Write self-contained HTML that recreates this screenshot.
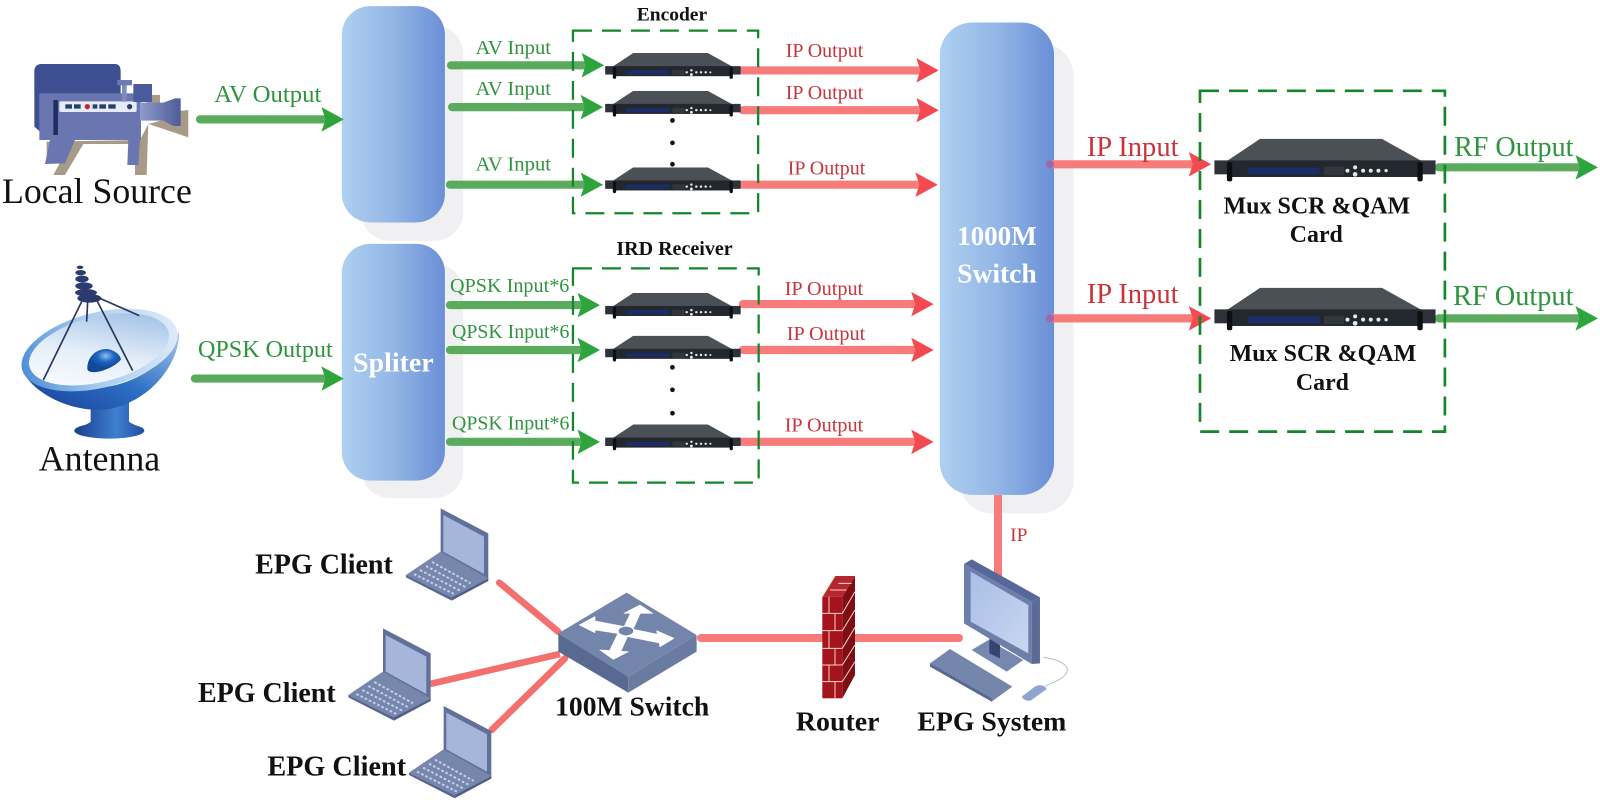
<!DOCTYPE html>
<html><head><meta charset="utf-8"><title>Headend diagram</title>
<style>
html,body{margin:0;padding:0;background:#fff;width:1600px;height:800px;overflow:hidden}
svg{display:block}
text{font-family:"Liberation Serif",serif}
.g{fill:#2f9440}.r{fill:#c8353c}.k{fill:#111}.b{font-weight:bold}.w{fill:#fff;font-weight:bold}
.ga{stroke:#5bab5e;stroke-width:8;stroke-linecap:round;marker-end:url(#mg);fill:none}
.ra{stroke:#f77b7b;stroke-width:8;stroke-linecap:round;marker-end:url(#mr);fill:none}
.d{fill:none;stroke:#13862a;stroke-width:2.2;stroke-dasharray:18.6 9.8}
</style></head><body>
<svg width="1600" height="800" viewBox="0 0 1600 800" xmlns="http://www.w3.org/2000/svg">
<defs>
<linearGradient id="bx" x1="0" x2="1" y1="0" y2="0"><stop offset="0" stop-color="#aed0f0"/><stop offset=".5" stop-color="#93b6e6"/><stop offset="1" stop-color="#6a8fd6"/></linearGradient>
<linearGradient id="lens" x1="0" x2="1"><stop offset="0" stop-color="#8f9bcb"/><stop offset="1" stop-color="#4e5c98"/></linearGradient>
<linearGradient id="bowl" x1="0" y1="1" x2="1" y2="0"><stop offset="0" stop-color="#163f95"/><stop offset=".5" stop-color="#2d6fc4"/><stop offset="1" stop-color="#a8cbec"/></linearGradient>
<linearGradient id="rim" x1="0" y1="0" x2="1" y2="0"><stop offset="0" stop-color="#4e8fd6"/><stop offset=".45" stop-color="#a9cdef"/><stop offset="1" stop-color="#dcebf8"/></linearGradient>
<linearGradient id="inner" x1="0" y1="1" x2="1" y2="0"><stop offset="0" stop-color="#fff"/><stop offset=".45" stop-color="#e5eff9"/><stop offset="1" stop-color="#8fb5e2"/></linearGradient>
<linearGradient id="stem" x1="0" x2="1"><stop offset="0" stop-color="#1b3f8f"/><stop offset=".6" stop-color="#3f7fd0"/><stop offset="1" stop-color="#1f4da0"/></linearGradient>
<radialGradient id="dome" cx=".55" cy=".3"><stop offset="0" stop-color="#8fc0f0"/><stop offset=".5" stop-color="#1f66c0"/><stop offset="1" stop-color="#124a9a"/></radialGradient>
<linearGradient id="scr" x1="0" y1="0" x2="1" y2="1"><stop offset="0" stop-color="#a9bfe6"/><stop offset="1" stop-color="#c8d6f0"/></linearGradient>
<marker id="mg" markerUnits="userSpaceOnUse" markerWidth="30" markerHeight="30" refX="5" refY="13" orient="auto"><path d="M0,1 L22,13 L0,25 L4,13z" fill="#2ea53c"/></marker>
<marker id="mr" markerUnits="userSpaceOnUse" markerWidth="30" markerHeight="30" refX="5" refY="13" orient="auto"><path d="M0,1 L22,13 L0,25 L4,13z" fill="#f24a50"/></marker>
<symbol id="dev" viewBox="102 178 665 132" preserveAspectRatio="none">
<polygon points="140,245 240,178 605,178 725,245" fill="#4b5057"/>
<rect x="140" y="243" width="585" height="50" fill="#23272e"/>
<rect x="102" y="243" width="50" height="42" fill="#2f3339"/>
<rect x="717" y="243" width="50" height="42" fill="#2f3339"/>
<rect x="140" y="248" width="16" height="58" rx="6" fill="#0d0f12"/>
<rect x="712" y="248" width="16" height="58" rx="6" fill="#0d0f12"/>
<rect x="203" y="264" width="215" height="21" fill="#1c2c66"/>
<rect x="432" y="262" width="60" height="26" fill="#33373d"/>
<circle cx="502" cy="274" r="6" fill="#e8e8e8"/><circle cx="525" cy="264" r="6" fill="#e8e8e8"/><circle cx="525" cy="285" r="7" fill="#e8e8e8"/><circle cx="549" cy="274" r="6" fill="#e8e8e8"/><circle cx="572" cy="274" r="6" fill="#e8e8e8"/><circle cx="595" cy="274" r="6" fill="#e8e8e8"/><circle cx="618" cy="274" r="5" fill="#e8e8e8"/>
</symbol>
<g id="lap">
<polygon points="632,25 775,100 775,240 632,160" fill="#5f7099"/>
<polygon points="640,45 762,110 762,222 640,155" fill="#a5b6da"/>
<polygon points="528,225 632,155 775,235 665,292" fill="#7686ad"/>
<polygon points="528,225 665,292 665,302 528,232" fill="#566891"/>
<polygon points="665,292 775,235 775,243 665,302" fill="#4e6088"/>
<g stroke="#c5d0e6" stroke-width="6" stroke-dasharray="8 6" fill="none">
<path d="M552,222 L672,282"/><path d="M570,210 L690,272"/><path d="M588,198 L708,262"/><path d="M606,186 L722,250"/>
</g>
</g>
</defs>
<rect width="1600" height="800" fill="#fff"/>

<!-- video camera (zoom coords) -->
<g transform="scale(.3333)">
<polygon points="140,425 420,420 445,372 490,360 520,335 565,330 565,412 530,400 445,372 440,525 405,525 405,432 250,432 195,525 160,525 190,470 140,470" fill="#a79b88"/>
<rect x="440" y="285" width="40" height="30" fill="#a79b88"/>
<path d="M103,215 Q103,192 125,192 H345 Q362,192 362,215 V280 L120,395 L103,380z" fill="#3d4f90"/>
<rect x="118" y="280" width="305" height="140" fill="#6a76b0"/>
<rect x="160" y="300" width="14" height="105" fill="#1f2f62"/>
<rect x="178" y="304" width="232" height="32" rx="5" fill="#e6ecf6"/>
<g fill="#25406f"><rect x="196" y="313" width="20" height="13"/><rect x="222" y="313" width="20" height="13"/><rect x="278" y="313" width="14" height="13"/><rect x="298" y="313" width="20" height="13"/><rect x="325" y="313" width="22" height="13"/><circle cx="389" cy="320" r="8"/></g>
<circle cx="262" cy="320" r="8" fill="#c8262c"/>
<rect x="366" y="245" width="14" height="60" fill="#7f8bbd"/><rect x="352" y="240" width="44" height="16" fill="#6d7ab2"/>
<rect x="400" y="252" width="56" height="54" fill="#4a5b9c"/>
<path d="M420,308 H490 L525,295 H542 V378 H520 L490,362 H420z" fill="url(#lens)"/>
<polygon points="150,420 225,420 195,490 135,492" fill="#6a76b0"/>
<polygon points="385,420 420,420 415,495 382,495" fill="#6a76b0"/>
</g>

<!-- dish (zoom coords) -->
<g transform="translate(0,250) scale(.3333)">
<path d="M272,455 H387 V515 Q400,525 432,535 L225,535 Q262,525 272,515z" fill="url(#stem)"/>
<ellipse cx="328" cy="542" rx="105" ry="24" fill="url(#stem)"/>
<path d="M65,355 C90,425 210,490 320,478 C450,458 540,340 537,245 C500,360 370,420 250,415 C160,412 90,395 65,355z" fill="url(#bowl)"/>
<ellipse cx="299" cy="300" rx="240" ry="113" transform="rotate(-14 299 300)" fill="url(#rim)"/>
<ellipse cx="297" cy="298" rx="215" ry="98" transform="rotate(-14 297 298)" fill="url(#inner)"/>
<path d="M262,355 C262,320 290,295 322,297 C345,300 365,318 362,330 C345,350 300,370 275,366 C265,365 262,360 262,355z" fill="url(#dome)"/>
<g stroke="#2a3560" stroke-width="5" fill="none"><path d="M245,155 L130,390"/><path d="M263,155 L260,215"/><path d="M290,150 L398,362"/><path d="M300,145 L418,197"/></g>
<g fill="#2b3a6f"><ellipse cx="240" cy="52" rx="10" ry="5"/><ellipse cx="242" cy="68" rx="16" ry="8"/><ellipse cx="246" cy="87" rx="20" ry="10"/><ellipse cx="252" cy="108" rx="26" ry="11"/><ellipse cx="258" cy="128" rx="33" ry="11"/><ellipse cx="268" cy="145" rx="36" ry="13"/></g>
</g>

<g transform="scale(1.0204)">
<!-- shadows -->
<rect x="354" y="25" width="100" height="211" rx="28" fill="#f0f0f2"/>
<rect x="354" y="258" width="100" height="230" rx="28" fill="#f0f0f2"/>
<rect x="940" y="42" width="112" height="461" rx="32" fill="#f0f0f2"/>
<!-- boxes -->
<rect x="335" y="6" width="101" height="212" rx="28" fill="url(#bx)"/>
<rect x="335" y="239" width="101" height="232" rx="28" fill="url(#bx)"/>
<rect x="921" y="22" width="112" height="463" rx="32" fill="url(#bx)"/>

<!-- green arrows -->
<line class="ga" x1="196" y1="117" x2="320" y2="117"/>
<line class="ga" x1="191" y1="371" x2="320" y2="371"/>
<line class="ga" x1="442" y1="64" x2="575" y2="64"/>
<line class="ga" x1="443" y1="105" x2="574" y2="105"/>
<line class="ga" x1="441" y1="181" x2="574" y2="181"/>
<line class="ga" x1="441" y1="299" x2="571" y2="299"/>
<line class="ga" x1="441" y1="343" x2="571" y2="343"/>
<line class="ga" x1="441" y1="433" x2="571" y2="433"/>
<line class="ga" x1="1410" y1="164" x2="1549" y2="164"/>
<line class="ga" x1="1410" y1="312" x2="1549" y2="312"/>
<!-- red arrows -->
<line class="ra" x1="728" y1="69" x2="903" y2="69"/>
<line class="ra" x1="728" y1="108" x2="903" y2="108"/>
<line class="ra" x1="728" y1="181" x2="902" y2="181"/>
<line class="ra" x1="728" y1="298" x2="898" y2="298"/>
<line class="ra" x1="728" y1="343" x2="898" y2="343"/>
<line class="ra" x1="728" y1="433" x2="898" y2="433"/>
<line class="ra" x1="1029" y1="161" x2="1170" y2="161"/>
<line class="ra" x1="1029" y1="312" x2="1170" y2="312"/>
<circle cx="1029" cy="161" r="4" fill="#9a6aa8"/><circle cx="1029" cy="312" r="4" fill="#9a6aa8"/>

<!-- devices -->
<use href="#dev" x="593" y="52" width="133" height="26"/>
<use href="#dev" x="593" y="89" width="133" height="26"/>
<use href="#dev" x="593" y="164" width="133" height="26"/>
<use href="#dev" x="593" y="287" width="133" height="26"/>
<use href="#dev" x="593" y="329" width="133" height="26"/>
<use href="#dev" x="593" y="416" width="133" height="26"/>
<use href="#dev" x="1190" y="136" width="217" height="43"/>
<use href="#dev" x="1190" y="282" width="217" height="43"/>
<g fill="#111"><circle cx="659" cy="118" r="2.3"/><circle cx="659" cy="140" r="2.3"/><circle cx="659" cy="161" r="2.3"/><circle cx="659" cy="360" r="2.3"/><circle cx="659" cy="382" r="2.3"/><circle cx="659" cy="405" r="2.3"/></g>

<!-- dashed groups -->
<rect class="d" x="561.5" y="30" width="181.5" height="179"/>
<rect class="d" x="561.5" y="263" width="182" height="210"/>
<rect class="d" x="1176" y="89" width="240" height="334" style="stroke-width:2.6"/>

<!-- labels -->
<text class="k b" x="624" y="20" font-size="19" textLength="69" lengthAdjust="spacingAndGlyphs">Encoder</text>
<text class="k b" x="604" y="250" font-size="20" textLength="114" lengthAdjust="spacingAndGlyphs">IRD Receiver</text>
<text class="g" x="466" y="53" font-size="19.4" textLength="74" lengthAdjust="spacingAndGlyphs">AV Input</text>
<text class="g" x="466" y="93" font-size="19.4" textLength="74" lengthAdjust="spacingAndGlyphs">AV Input</text>
<text class="g" x="466" y="167" font-size="19.4" textLength="74" lengthAdjust="spacingAndGlyphs">AV Input</text>
<text class="r" x="770" y="56" font-size="19.4" textLength="76" lengthAdjust="spacingAndGlyphs">IP Output</text>
<text class="r" x="770" y="97" font-size="19.4" textLength="76" lengthAdjust="spacingAndGlyphs">IP Output</text>
<text class="r" x="772" y="171" font-size="19.4" textLength="76" lengthAdjust="spacingAndGlyphs">IP Output</text>
<text class="r" x="769" y="289" font-size="19.4" textLength="77" lengthAdjust="spacingAndGlyphs">IP Output</text>
<text class="r" x="771" y="333" font-size="19.4" textLength="77" lengthAdjust="spacingAndGlyphs">IP Output</text>
<text class="r" x="769" y="423" font-size="19.4" textLength="77" lengthAdjust="spacingAndGlyphs">IP Output</text>
<text class="g" x="441" y="286" font-size="19.6" textLength="117" lengthAdjust="spacingAndGlyphs">QPSK Input*6</text>
<text class="g" x="443" y="331" font-size="19.6" textLength="115" lengthAdjust="spacingAndGlyphs">QPSK Input*6</text>
<text class="g" x="443" y="421" font-size="19.6" textLength="115" lengthAdjust="spacingAndGlyphs">QPSK Input*6</text>
<text class="g" x="210" y="100" font-size="23.5" textLength="105" lengthAdjust="spacingAndGlyphs">AV Output</text>
<text class="g" x="194" y="350" font-size="23.6" textLength="132" lengthAdjust="spacingAndGlyphs">QPSK Output</text>
<text class="k" x="2" y="199" font-size="35" textLength="186" lengthAdjust="spacingAndGlyphs">Local Source</text>
<text class="k" x="38" y="461" font-size="35" textLength="119" lengthAdjust="spacingAndGlyphs">Antenna</text>
<text class="w" x="938" y="240" font-size="26.5" textLength="78" lengthAdjust="spacingAndGlyphs">1000M</text>
<text class="w" x="938" y="277" font-size="27" textLength="78" lengthAdjust="spacingAndGlyphs">Switch</text>
<text class="w" x="346" y="364" font-size="27.3" textLength="79" lengthAdjust="spacingAndGlyphs">Spliter</text>
<text class="r" x="1065" y="153" font-size="27.7" textLength="90" lengthAdjust="spacingAndGlyphs">IP Input</text>
<text class="r" x="1065" y="297" font-size="27.7" textLength="90" lengthAdjust="spacingAndGlyphs">IP Input</text>
<text class="g" x="1425" y="153" font-size="27.5" textLength="117" lengthAdjust="spacingAndGlyphs">RF Output</text>
<text class="g" x="1424" y="299" font-size="27.5" textLength="118" lengthAdjust="spacingAndGlyphs">RF Output</text>
<text class="k b" x="1199" y="209" font-size="23.5" textLength="183" lengthAdjust="spacingAndGlyphs">Mux SCR &amp;QAM</text>
<text class="k b" x="1264" y="237" font-size="23.4" textLength="52" lengthAdjust="spacingAndGlyphs">Card</text>
<text class="k b" x="1205" y="354" font-size="23.5" textLength="183" lengthAdjust="spacingAndGlyphs">Mux SCR &amp;QAM</text>
<text class="k b" x="1270" y="382" font-size="23.4" textLength="52" lengthAdjust="spacingAndGlyphs">Card</text>
<text class="k b" x="250" y="562" font-size="27.5" textLength="135" lengthAdjust="spacingAndGlyphs">EPG Client</text>
<text class="k b" x="194" y="688" font-size="27.5" textLength="135" lengthAdjust="spacingAndGlyphs">EPG Client</text>
<text class="k b" x="262" y="760" font-size="27.5" textLength="136" lengthAdjust="spacingAndGlyphs">EPG Client</text>
<text class="k b" x="544" y="701" font-size="27" textLength="151" lengthAdjust="spacingAndGlyphs">100M Switch</text>
<text class="k b" x="780" y="716" font-size="27.3" textLength="82" lengthAdjust="spacingAndGlyphs">Router</text>
<text class="k b" x="899" y="716" font-size="27.2" textLength="146" lengthAdjust="spacingAndGlyphs">EPG System</text>
<text class="r" x="990" y="530" font-size="19" textLength="17" lengthAdjust="spacingAndGlyphs">IP</text>
</g>

<!-- IP lines -->
<rect x="994" y="495" width="8" height="85" fill="#f77b7b"/>
<rect x="697" y="634" width="266" height="8" rx="4" fill="#f77b7b"/>

<!-- lower left (zoom coords) -->
<g transform="translate(230,500) scale(.3333)">
<g stroke="#f4706f" stroke-width="20" stroke-linecap="round" fill="none">
<path d="M808,248 L985,395"/><path d="M600,552 L990,462" stroke-linecap="butt"/><path d="M785,690 L1005,475"/>
</g>
<use href="#lap"/>
<use href="#lap" x="-173" y="360"/>
<use href="#lap" x="9" y="593"/>
<polygon points="985,400 1190,278 1400,405 1195,530" fill="#7485ac"/>
<polygon points="985,400 1195,530 1195,578 985,455" fill="#586a92"/>
<polygon points="1195,530 1400,405 1400,455 1195,578" fill="#6a7ba2"/>
<g fill="#fff" stroke="#fff" stroke-linejoin="round">
<path d="M1090,363 L1190,382 L1180,402 L1090,388z" stroke-width="4"/>
<polygon points="1048,375 1095,350 1095,398" stroke-width="2"/>
<path d="M1205,335 L1232,335 L1205,395 L1178,392z" stroke-width="4"/>
<polygon points="1182,340 1230,315 1268,340" stroke-width="2"/>
<path d="M1190,385 L1288,405 L1288,428 L1190,408z" stroke-width="4"/>
<polygon points="1280,392 1332,415 1290,440" stroke-width="2"/>
<path d="M1170,390 L1198,395 L1170,458 L1140,452z" stroke-width="4"/>
<polygon points="1110,450 1195,455 1150,478" stroke-width="2"/>
</g>
<ellipse cx="1188" cy="393" rx="22" ry="13" fill="#7485ac"/>
</g>

<!-- router & monitor (zoom coords) -->
<g transform="translate(780,490) scale(.3333)">
<polygon points="187,320 225,258 225,555 187,625" fill="#7d0f14"/>
<polygon points="127,320 165,258 225,258 187,320" fill="#b52730"/>
<rect x="127" y="320" width="60" height="305" fill="#a5141c"/>
<g stroke="#f3d3bf" stroke-width="3" fill="none">
<path d="M127,370 H187 M127,422 H187 M127,475 H187 M127,525 H187 M127,575 H187"/>
<path d="M147,320 V370 M165,370 V422 M147,422 V475 M165,475 V525 M147,525 V575 M165,575 V625"/>
<path d="M187,370 L225,305 M187,422 L225,360 M187,475 L225,412 M187,525 L225,465 M187,575 L225,515"/>
<path d="M127,320 L165,258 M150,300 H200 M175,280 H215"/>
</g>
<path d="M790,502 C850,510 880,535 850,560 C830,578 805,580 785,595" fill="none" stroke="#aab2c0" stroke-width="2.5"/>
<polygon points="575,480 625,450 730,510 680,545" fill="#7788b0"/>
<polygon points="628,445 660,465 660,505 628,490" fill="#34456f"/>
<polygon points="552,222 755,335 755,522 552,400" fill="#6d7fa8"/>
<polygon points="552,222 575,208 780,322 755,335" fill="#56689a"/>
<polygon points="755,335 780,322 780,520 755,522" fill="#5a6c96"/>
<polygon points="572,245 745,345 745,490 572,395" fill="url(#scr)"/>
<polygon points="450,520 510,477 697,590 635,635" fill="#7586ad"/>
<polygon points="450,520 635,625 635,635 450,530" fill="#566891"/>
<path d="M725,620 L765,590 Q785,578 800,597 L752,632 Q732,634 725,620z" fill="#8fa5cf"/>
</g>
</svg>
</body></html>
